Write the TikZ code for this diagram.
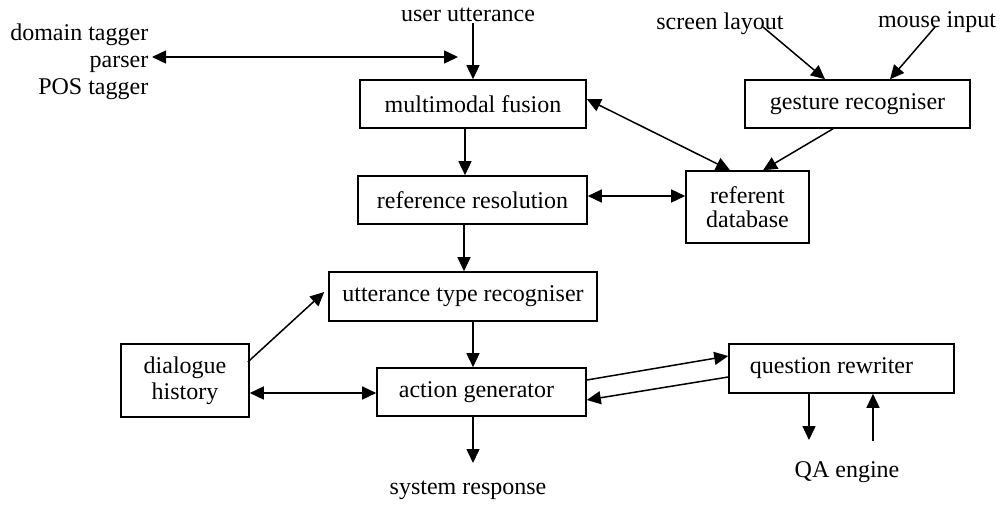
\documentclass[tikz,border=0pt]{standalone}
\usepackage{fontspec}
\setmainfont{Liberation Serif}
\usetikzlibrary{arrows.meta}
\begin{document}
\begin{tikzpicture}[x=1pt,y=-1pt,
  font=\fontsize{24}{27}\selectfont,
  line width=1.5pt,
  >={Triangle[length=14pt,width=13pt]},
  box/.style={draw,line width=1.6pt,inner sep=0pt,align=center},
  lbl/.style={inner sep=0pt,align=center},
  arr/.style={->},
  darr/.style={<->}]
\useasboundingbox (0,0) rectangle (1000,504);
% boxes
\node[box,minimum width=226,minimum height=48] (mf) at (473,104) {multimodal fusion};
\node[box,minimum width=225,minimum height=48] (gr) at (857.5,104) {gesture recogniser};
\node[box,minimum width=229,minimum height=48] (rr) at (472.5,200) {reference resolution};
\node[box,minimum width=123,minimum height=72] (rd) at (747.5,207) {\raisebox{-3pt}{referent}\\database};
\node[box,minimum width=268,minimum height=49] (ut) at (463,296.5) {utterance type recogniser};
\node[box,minimum width=128,minimum height=73] (dh) at (185,380.5) {\raisebox{-5pt}{dialogue}\\\raisebox{-4pt}{history}};
\node[box,minimum width=209,minimum height=48] (ag) at (481.5,392) {\hspace*{-10pt}action generator};
\node[box,minimum width=225,minimum height=49] (qr) at (841.5,368.5) {\hspace*{-20pt}question rewriter};
% labels
\node[lbl] (uu) at (468,15) {user utterance};
\node[lbl,align=right,anchor=east] (lex) at (149,62) {domain tagger\\parser\\POS tagger};
\node[lbl] (sl) at (720,24) {screen layout};
\node[lbl] (mi) at (937,22) {mouse input};
\node[lbl] (sr) at (468,490) {system response};
\node[lbl] (qa) at (847,472) {QA engine};
% free ends
\coordinate (lexend) at (458,57);
\coordinate (srtip) at (473,463);
\coordinate (qadown) at (809,440);
\coordinate (qaup) at (873,441);
\coordinate (slstart) at (763,27);
\coordinate (mistart) at (935,27);
% connectors
\draw[arr] (mf.north |- uu.south) -- (mf.north);
\draw[darr] (lex.east |- lexend) ++(3,0) -- (lexend);
\draw[arr] (mf.south -| 465,0) -- (rr.north -| 465,0);
\draw[arr] (rr.south -| 464,0) -- (ut.north -| 464,0);
\draw[arr] (ut.south -| 473,0) -- (ag.north -| 473,0);
\draw[arr] (ag.south -| 473,0) -- (srtip);
\draw[darr] (dh.east |- 0,393) -- (ag.west |- 0,393);
\draw[arr] (dh.east |- 0,362) ++(-2,0) -- ([xshift=-4]ut.west |- 0,292);
\draw[arr] (ag.east |- 0,380) -- (qr.west |- 0,356);
\draw[arr] (qr.west |- 0,377) -- (ag.east |- 0,400);
\draw[arr] (qr.south -| qadown) -- (qadown);
\draw[arr] (qaup) -- (qr.south -| qaup);
\draw[arr] (slstart) -- (gr.north -| 825,0);
\draw[arr] (mistart) -- (gr.north -| 890,0);
\draw[arr] (gr.south -| 833,0) -- (rd.north -| 763,0);
\draw[darr] (mf.east |- 0,99) -- (rd.north -| 730,0);
\draw[darr] (rr.east |- 0,196) -- (rd.west |- 0,196);
\end{tikzpicture}
\end{document}
